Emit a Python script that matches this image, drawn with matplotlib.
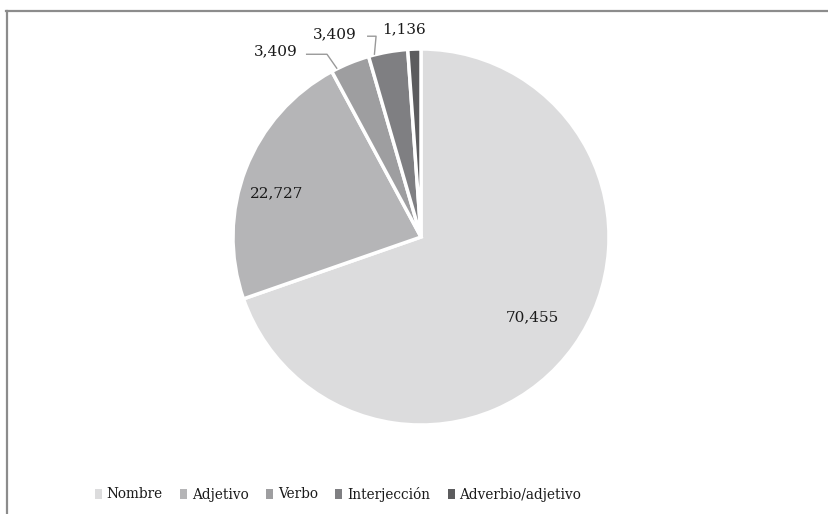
import matplotlib.pyplot as plt
from matplotlib.lines import Line2D
from matplotlib.patches import Patch
import numpy as np

# word classes and their share (%)
categorias = ["Nombre", "Adjetivo", "Verbo", "Interjección", "Adverbio/adjetivo"]
porcentajes = [70.455, 22.727, 3.409, 3.409, 1.136]
colores = ["#dcdcdd", "#b5b5b7", "#9e9ea0", "#7f7f82", "#5c5c5e"]

# where each value label sits (pie units)
pos_etiquetas = [(0.59, -0.425), (-0.77, 0.235), (-0.77, 0.99), (-0.46, 1.08), (-0.09, 1.105)]
# leader lines: (start x, knee x, y) or None
guias = [None, None, (-0.612, -0.50, 0.972), (-0.287, -0.239, 1.068), None]

plt.rcParams["font.family"] = ["DejaVu Serif"]

W, H = 829, 514
fig = plt.figure(figsize=(W / 100, H / 100), dpi=100)
cx, cy, R = 421, 237, 188
ax = fig.add_axes([(cx - R) / W, (H - cy - R) / H, 2 * R / W, 2 * R / H])

wedges, _ = ax.pie(porcentajes, colors=colores, startangle=90, counterclock=False,
                   radius=1, wedgeprops=dict(edgecolor="white", linewidth=2.5))
ax.set_xlim(-1, 1)
ax.set_ylim(-1, 1)
ax.axis("off")


def fmt(v):
    return f"{v:.3f}".replace(".", ",")


for w, v, (tx, ty), guia in zip(wedges, porcentajes, pos_etiquetas, guias):
    ax.text(tx, ty, fmt(v), ha="center", va="center", fontsize=11,
            color="#1a1a1a", clip_on=False)
    if guia:
        # short horizontal from the label, then down to the wedge rim
        ang = np.deg2rad(w.theta2 - 0.15 * (w.theta2 - w.theta1))
        ex, ey = np.cos(ang), np.sin(ang)
        x0, x1, y0 = guia
        ax.plot([x0, x1, ex], [y0, y0, ey], color="#999999",
                lw=1, clip_on=False, solid_capstyle="butt")

handles = [Patch(facecolor=c, edgecolor="none") for c in colores]
leg = fig.legend(handles, categorias, loc="center", bbox_to_anchor=(338 / W, 1 - 494 / H),
                 ncol=5, frameon=False, fontsize=9.8, handlelength=0.5,
                 handleheight=0.75, handletextpad=0.35, columnspacing=1.3)
for t in leg.get_texts():
    t.set_color("#1a1a1a")

# open frame: left and top edges only
fig.add_artist(Line2D([7 / W, 7 / W], [0, 1 - 10.5 / H], transform=fig.transFigure,
                      color="#8c8c8c", lw=1.6))
fig.add_artist(Line2D([6.2 / W, 828 / W], [1 - 10.5 / H, 1 - 10.5 / H],
                      transform=fig.transFigure, color="#8c8c8c", lw=1.6))

fig.savefig("out.png", dpi=100, facecolor="white")
